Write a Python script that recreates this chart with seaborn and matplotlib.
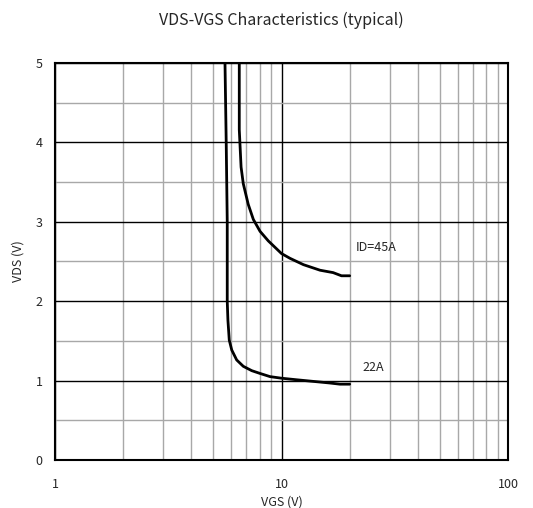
import numpy as np
import pandas as pd
import matplotlib
matplotlib.use("Agg")
import matplotlib.pyplot as plt
import seaborn as sns
from matplotlib.ticker import FixedLocator, NullFormatter

# ── Data ──────────────────────────────────────────────────────────────────────
vgs_45a = [6.51, 6.51, 6.63, 6.78, 7.13, 7.51, 8.04, 8.74, 10.0, 10.9, 12.5, 14.8, 16.9, 18.4, 20.0]
vds_45a = [5.00, 4.16, 3.69, 3.48, 3.22, 3.03, 2.88, 2.76, 2.60, 2.54, 2.46, 2.39, 2.36, 2.32, 2.32]

vgs_22a = [5.63, 5.70, 5.76, 5.76, 5.80, 5.88, 6.03, 6.34, 6.78, 7.39, 8.04, 8.9, 10.0, 11.7, 13.8, 16.3, 18.1, 20.0]
vds_22a = [5.00, 4.00, 3.00, 2.00, 1.76, 1.51, 1.385, 1.26, 1.18, 1.125, 1.09, 1.05, 1.03, 1.01, 0.99, 0.97, 0.955, 0.955]

x_ticks = [1, 10, 100]
y_ticks = [0, 1, 2, 3, 4, 5]

df = pd.concat([
    pd.DataFrame({"VGS": vgs_45a, "VDS": vds_45a, "ID": "45A"}),
    pd.DataFrame({"VGS": vgs_22a, "VDS": vds_22a, "ID": "22A"}),
])

sns.set_style("white")
plt.rcParams["font.family"] = ["Noto Sans CJK JP", "DejaVu Sans"]

fig = plt.figure(figsize=(5.33, 5.08), dpi=100)
ax = fig.add_axes([0.1032, 0.0945, 0.8499, 0.7815])

# grid first, so the curves sit on top
ax.set_xscale("log")
ax.set_xlim(1, 100)
ax.set_ylim(0, 5)
ax.xaxis.set_major_locator(FixedLocator(x_ticks))
ax.xaxis.set_minor_locator(FixedLocator([m * d for d in (1, 10) for m in range(2, 10)]))
ax.xaxis.set_minor_formatter(NullFormatter())
ax.yaxis.set_major_locator(FixedLocator(y_ticks))
ax.yaxis.set_minor_locator(FixedLocator([0.5, 1.5, 2.5, 3.5, 4.5]))
ax.grid(which="major", color="black", lw=1.0)
ax.grid(which="minor", color="#a8a8a8", lw=1.0)
ax.set_axisbelow(True)

sns.lineplot(
    data=df, x="VGS", y="VDS", hue="ID",
    sort=False, estimator=None, palette=["black", "black"],
    linewidth=2.0, legend=False, ax=ax,
)

ax.set_xticklabels(["1", "10", "100"])
ax.tick_params(which="both", length=0, labelsize=9)
ax.tick_params(axis="x", pad=13)
ax.tick_params(axis="y", pad=9)
for s in ax.spines.values():
    s.set_color("black")
    s.set_linewidth(1.5)

ax.set_xlabel("VGS (V)", fontsize=9, labelpad=3)
ax.set_ylabel("VDS (V)", fontsize=9, labelpad=8)

ax.text(21.3, 2.67, "ID=45A", fontsize=9, va="center", ha="left")
ax.text(22.7, 1.17, "22A", fontsize=9, va="center", ha="left")

fig.text(0.528, 0.960, "VDS-VGS Characteristics (typical)", fontsize=11.5,
         ha="center", va="center")

fig.savefig("out.png", dpi=100)
